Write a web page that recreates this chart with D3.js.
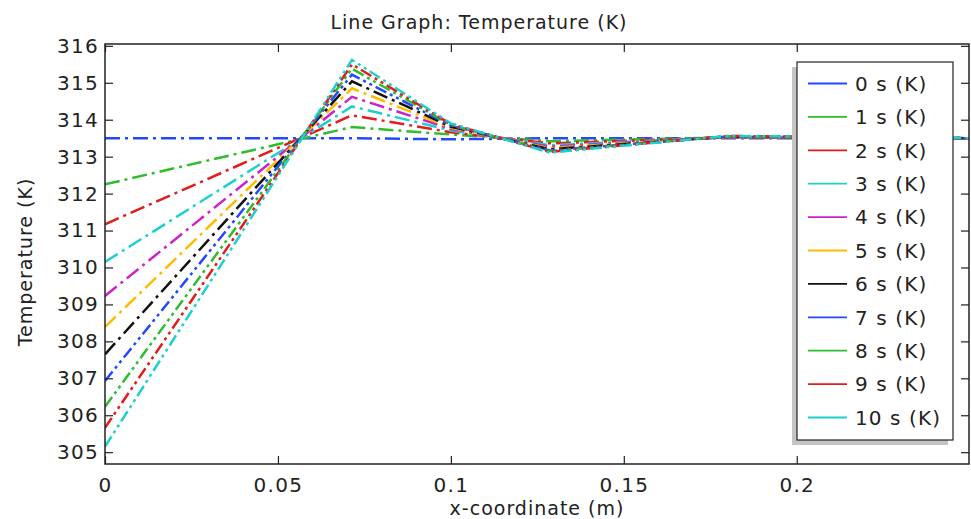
<!DOCTYPE html>
<html>
<head>
<meta charset="utf-8">
<script src="https://cdn.jsdelivr.net/npm/d3@7"></script>
<style>
  body { margin: 0; background: #fff; }
  text { font-family: "DejaVu Sans", sans-serif; fill: #222; }
</style>
</head>
<body>
<div id="chart"></div>
<script>
// x nodes along the line (m)
const xNodes = [0, 0.0714, 0.1, 0.1286, 0.18, 0.25];

const timeLabels = ["0 s (K)", "1 s (K)", "2 s (K)", "3 s (K)", "4 s (K)", "5 s (K)",
                    "6 s (K)", "7 s (K)", "8 s (K)", "9 s (K)", "10 s (K)"];

// temperature (K) at each x node
const t0  = [313.5,  313.5,  313.47, 313.5,  313.5,  313.5];
const t1  = [312.25, 313.8,  313.6,  313.42, 313.52, 313.5];
const t2  = [311.17, 314.12, 313.66, 313.36, 313.52, 313.5];
const t3  = [310.15, 314.36, 313.71, 313.31, 313.53, 313.5];
const t4  = [309.23, 314.62, 313.75, 313.27, 313.53, 313.5];
const t5  = [308.39, 314.85, 313.78, 313.23, 313.54, 313.5];
const t6  = [307.65, 315.04, 313.81, 313.2,  313.54, 313.5];
const t7  = [306.93, 315.22, 313.84, 313.17, 313.55, 313.5];
const t8  = [306.23, 315.38, 313.86, 313.15, 313.55, 313.5];
const t9  = [305.66, 315.5,  313.88, 313.13, 313.56, 313.5];
const t10 = [305.15, 315.62, 313.9,  313.11, 313.56, 313.5];

const xTicks = [0, 0.05, 0.1, 0.15, 0.2];
const yTicks = [305, 306, 307, 308, 309, 310, 311, 312, 313, 314, 315, 316];

const colors = ["#2447ff", "#2dbd2d", "#e21b1b", "#1cd0d0", "#cc22cc", "#ffbb00",
                "#111111", "#2447ff", "#2dbd2d", "#e21b1b", "#1cd0d0"];

const series = [t0, t1, t2, t3, t4, t5, t6, t7, t8, t9, t10];

const W = 971, H = 519;
const margin = {top: 44, right: 2, bottom: 55, left: 105};
const width = W - margin.left - margin.right;
const height = H - margin.top - margin.bottom;

const root = d3.select("#chart")
    .append("svg")
    .attr("width", W)
    .attr("height", H);

const svg = root.append("g")
    .attr("transform", `translate(${margin.left},${margin.top})`);

const x = d3.scaleLinear()
    .domain([0, 0.2498])
    .range([0, width]);

const y = d3.scaleLinear()
    .domain([304.68, 316.05])
    .range([height, 0]);

svg.append("clipPath")
    .attr("id", "clip")
    .append("rect")
    .attr("width", width)
    .attr("height", height);

// lines
const line = d3.line()
    .x((d, i) => x(xNodes[i]))
    .y(d => y(d));

svg.append("g")
    .attr("clip-path", "url(#clip)")
    .selectAll("path")
    .data(series)
    .enter().append("path")
    .attr("d", d => line(d))
    .attr("fill", "none")
    .attr("stroke", (d, i) => colors[i])
    .attr("stroke-width", 2.5)
    .attr("stroke-dasharray", (d, i) => i < 7 ? "15,5,3,5" : "12,4,3,4,3,4");

// axes, ticks inward on every side
const tickLen = 8;
const tickFont = g => g.selectAll("text")
    .style("font-size", "20px")
    .style("letter-spacing", "1.3px");

svg.append("g")
    .attr("transform", `translate(0,${height})`)
    .call(d3.axisBottom(x).tickValues(xTicks).tickSizeInner(-tickLen).tickSizeOuter(0)
        .tickPadding(14).tickFormat(d => d3.format("")(d)))
    .call(tickFont);

svg.append("g")
    .call(d3.axisLeft(y).tickValues(yTicks).tickSizeInner(-tickLen).tickSizeOuter(0)
        .tickPadding(6))
    .call(tickFont);

svg.append("g")
    .call(d3.axisTop(x).tickValues(xTicks).tickSizeInner(-tickLen).tickSizeOuter(0).tickFormat(""));

svg.append("g")
    .attr("transform", `translate(${width},0)`)
    .call(d3.axisRight(y).tickValues(yTicks).tickSizeInner(-tickLen).tickSizeOuter(0).tickFormat(""));

svg.selectAll(".domain").remove();
svg.selectAll(".tick line").attr("stroke", "#222").attr("stroke-width", 1.2);

svg.append("rect")
    .attr("width", width)
    .attr("height", height)
    .attr("fill", "none")
    .attr("stroke", "#222")
    .attr("stroke-width", 1.5);

// legend
const lg = svg.append("g")
    .attr("transform", `translate(${797 - margin.left},${62 - margin.top})`);
const lgW = 156, lgH = 378, rowH = 33.4;

lg.append("rect")
    .attr("x", -5).attr("y", 5)
    .attr("width", lgW).attr("height", lgH)
    .attr("fill", "#c4c4c4");
lg.append("rect")
    .attr("width", lgW).attr("height", lgH)
    .attr("fill", "#fff")
    .attr("stroke", "#222")
    .attr("stroke-width", 1.2);

const rows = lg.selectAll(".row")
    .data(timeLabels)
    .enter().append("g")
    .attr("class", "row")
    .attr("transform", (d, i) => `translate(0,${21.5 + i * rowH})`);

rows.append("line")
    .attr("x1", 11).attr("x2", 50)
    .attr("stroke", (d, i) => colors[i])
    .attr("stroke-width", 1.8);

rows.append("text")
    .attr("x", 58)
    .attr("dy", "0.36em")
    .style("font-size", "20px")
    .style("letter-spacing", "1.1px")
    .text(d => d);

// labels
root.append("text")
    .attr("x", margin.left + width / 2 - 58)
    .attr("y", 29)
    .attr("text-anchor", "middle")
    .style("font-size", "19px")
    .style("letter-spacing", "1px")
    .text("Line Graph: Temperature (K)");

root.append("text")
    .attr("x", margin.left + width / 2)
    .attr("y", 515)
    .attr("text-anchor", "middle")
    .style("font-size", "19px")
    .style("letter-spacing", "1px")
    .text("x-coordinate (m)");

root.append("text")
    .attr("transform", `translate(32,${margin.top + height / 2 + 8}) rotate(-90)`)
    .attr("text-anchor", "middle")
    .style("font-size", "19px")
    .style("letter-spacing", "1px")
    .text("Temperature (K)");
</script>
</body>
</html>
